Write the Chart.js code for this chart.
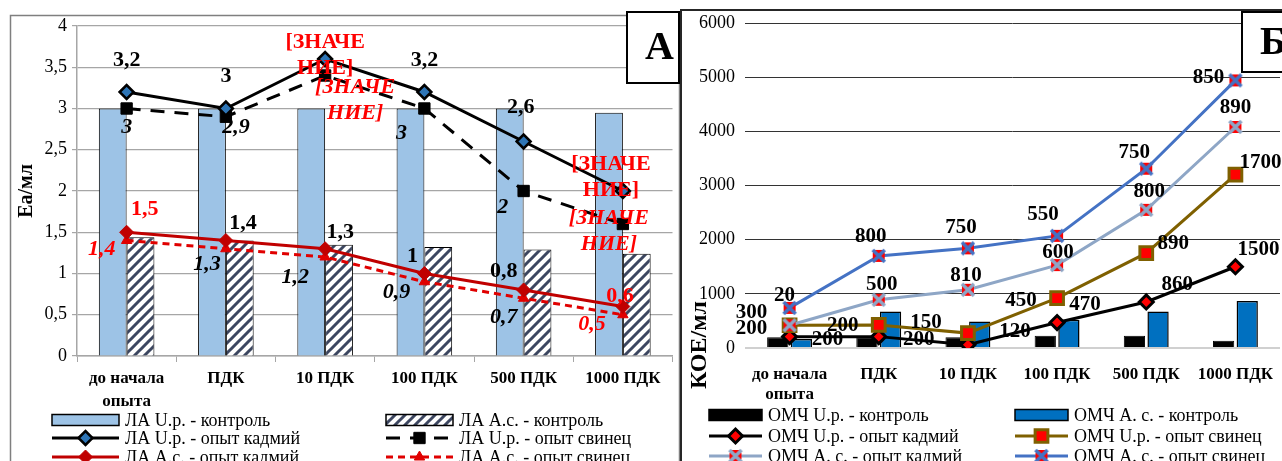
<!DOCTYPE html>
<html>
<head>
<meta charset="utf-8">
<script src="https://cdn.jsdelivr.net/npm/chart.js@4.4.0/dist/chart.umd.min.js"></script>
<style>
  html, body { margin: 0; padding: 0; background: #fff; overflow: hidden; }
  #wrap { position: relative; width: 1282px; height: 461px; overflow: hidden; }
  #boxA { position: absolute; left: 0; top: 0; width: 682px; height: 461px; }
  #boxB { position: absolute; left: 680px; top: 0; width: 612px; height: 461px; }
</style>
</head>
<body>
<div id="wrap">
  <div id="boxA"><canvas id="chartA"></canvas></div>
  <div id="boxB"><canvas id="chartB"></canvas></div>
</div>
<script>
var FONT = "'Liberation Serif', 'Times New Roman', serif";
var RED = "#FF0000";

var categories = [["до начала", "опыта"], "ПДК", "10 ПДК", "100 ПДК", "500 ПДК", "1000 ПДК"];

// panel A - ЛА, Еа/мл
var yTicksA = ["0", "0,5", "1", "1,5", "2", "2,5", "3", "3,5", "4"];
var laUrControl = [3, 3, 3, 3, 3, 2.95];
var laAsControl = [1.44, 1.4, 1.35, 1.32, 1.29, 1.24];
var laUrCd = [3.2, 3, 3.6, 3.2, 2.6, 2];
var laUrPb = [3, 2.9, 3.4, 3, 2, 1.6];
var laAsCd = [1.5, 1.4, 1.3, 1, 0.8, 0.6];
var laAsPb = [1.4, 1.3, 1.2, 0.9, 0.7, 0.5];
var laUrCdText = ["3,2", "3", "[ЗНАЧЕНИЕ]", "3,2", "2,6", "[ЗНАЧЕНИЕ]"];
var laUrPbText = ["3", "2,9", "[ЗНАЧЕНИЕ]", "3", "2", "[ЗНАЧЕНИЕ]"];
var laAsCdText = ["1,5", "1,4", "1,3", "1", "0,8", "0,6"];
var laAsPbText = ["1,4", "1,3", "1,2", "0,9", "0,7", "0,5"];

// panel Б - ОМЧ, КОЕ/мл
var yTicksB = ["0", "1000", "2000", "3000", "4000", "5000", "6000"];
var omUrControl = [200, 200, 200, 225, 225, 135];
var omAsControl = [165, 675, 490, 520, 675, 870];
var omUrCd = [210, 210, 60, 470, 850, 1500];
var omUrPb = [420, 425, 275, 920, 1750, 3200];
var omAsCd = [420, 890, 1075, 1530, 2550, 4080];
var omAsPb = [740, 1700, 1840, 2070, 3310, 4940];
var omUrCdText = ["200", "200", "120", "470", "860", "1500"];
var omUrPbText = ["200", "200", "150", "450", "890", "1700"];
var omAsCdText = ["300", "500", "810", "600", "800", "890"];
var omAsPbText = ["20", "800", "750", "550", "750", "850"];

// hatched fill for "А.с. - контроль"
function makeHatch() {
  var c = document.createElement("canvas");
  c.width = 10; c.height = 10;
  var g = c.getContext("2d");
  g.fillStyle = "#fff";
  g.fillRect(0, 0, 10, 10);
  g.strokeStyle = "#3C4660";
  g.lineWidth = 3;
  g.beginPath();
  g.moveTo(-2, 12); g.lineTo(12, -2);
  g.moveTo(-7, 7); g.lineTo(7, -7);
  g.moveTo(3, 17); g.lineTo(17, 3);
  g.stroke();
  return c.getContext("2d").createPattern(c, "repeat");
}

// red square with an X over it
function crossMarker(color) {
  var c = document.createElement("canvas");
  c.width = 18; c.height = 18;
  var g = c.getContext("2d");
  g.fillStyle = RED;
  g.fillRect(3, 3, 12, 12);
  g.strokeStyle = color;
  g.lineWidth = 3.5;
  g.beginPath();
  g.moveTo(3, 3); g.lineTo(15, 15);
  g.moveTo(15, 3); g.lineTo(3, 15);
  g.stroke();
  return c;
}

var hatch = makeHatch();

var pointLabels = {
  id: "pointLabels",
  afterDatasetsDraw: function (chart) {
    var ctx = chart.ctx;
    chart.data.datasets.forEach(function (ds, i) {
      if (!ds.labelText) return;
      var meta = chart.getDatasetMeta(i);
      meta.data.forEach(function (pt, j) {
        var t = ds.labelText[j];
        var lines = t.length > 6 ? [t.slice(0, 6), t.slice(6)] : [t];
        var off = ds.labelOffsets[j];
        ctx.save();
        ctx.font = (ds.labelItalic ? "italic " : "") + "bold " + ds.labelSize + "px " + FONT;
        ctx.fillStyle = ds.labelColors ? ds.labelColors[j] : "#000";
        ctx.textAlign = "center";
        ctx.textBaseline = "middle";
        lines.forEach(function (s, k) {
          ctx.fillText(s, pt.x + off[0], pt.y + off[1] + (k - (lines.length - 1) / 2) * 26);
        });
        ctx.restore();
      });
    });
  }
};

function legendPlugin(items, swatch, barH) {
  return {
    id: "customLegend",
    afterDraw: function (chart) {
      var ctx = chart.ctx;
      items.forEach(function (it) {
        var ds = chart.data.datasets[it.i];
        var x0 = it.x, y = it.y;
        ctx.save();
        if (ds.type === "bar") {
          ctx.fillStyle = ds.backgroundColor;
          ctx.fillRect(x0, y - barH / 2, swatch, barH);
          ctx.strokeStyle = "#000";
          ctx.lineWidth = 1.5;
          ctx.strokeRect(x0, y - barH / 2, swatch, barH);
        } else {
          ctx.strokeStyle = ds.borderColor;
          ctx.lineWidth = ds.borderWidth;
          ctx.setLineDash(ds.borderDash || []);
          ctx.beginPath();
          ctx.moveTo(x0, y);
          ctx.lineTo(x0 + swatch, y);
          ctx.stroke();
          ctx.setLineDash([]);
          ctx.fillStyle = ds.pointBackgroundColor;
          ctx.strokeStyle = ds.pointBorderColor;
          ctx.lineWidth = ds.pointBorderWidth;
          Chart.helpers.drawPoint(ctx, {
            pointStyle: ds.pointStyle, radius: ds.pointRadius, rotation: 0, borderWidth: ds.pointBorderWidth
          }, x0 + swatch / 2, y);
        }
        ctx.fillStyle = "#000";
        ctx.font = "18px " + FONT;
        ctx.textAlign = "left";
        ctx.textBaseline = "middle";
        ctx.fillText(ds.label, x0 + swatch + 6, y + 1);
        ctx.restore();
      });
    }
  };
}

// frame, rotated axis title and the panel letter box
function decorPlugin(opts) {
  return {
    id: "decor",
    beforeDraw: function (chart) {
      var ctx = chart.ctx;
      ctx.save();
      ctx.strokeStyle = opts.frameColor;
      ctx.lineWidth = opts.frameWidth;
      ctx.strokeRect(opts.frame[0], opts.frame[1], opts.frame[2], opts.frame[3]);
      ctx.restore();
    },
    afterDraw: function (chart) {
      var ctx = chart.ctx;
      ctx.save();
      ctx.translate(opts.titleX, opts.titleY);
      ctx.rotate(-Math.PI / 2);
      ctx.font = "bold " + opts.titleSize + "px " + FONT;
      ctx.fillStyle = "#000";
      ctx.textAlign = "center";
      ctx.textBaseline = "middle";
      ctx.fillText(opts.title, 0, 0);
      ctx.restore();

      ctx.save();
      var b = opts.box;
      ctx.fillStyle = "#fff";
      ctx.fillRect(b[0], b[1], b[2], b[3]);
      ctx.strokeStyle = "#000";
      ctx.lineWidth = 2;
      ctx.strokeRect(b[0], b[1], b[2], b[3]);
      ctx.font = "bold 40px " + FONT;
      ctx.fillStyle = "#000";
      ctx.textAlign = "left";
      ctx.textBaseline = "middle";
      ctx.fillText(opts.letter, opts.letterX, opts.letterY);
      ctx.restore();
    }
  };
}

// ---------- panel A ----------
var dataA = {
  labels: categories,
  datasets: [
    {
      type: "line", label: "ЛА U.р. - опыт кадмий", data: laUrCd, order: 1,
      borderColor: "#000", borderWidth: 3, pointStyle: "rectRot", pointRadius: 7,
      pointBackgroundColor: "#2E75B6", pointBorderColor: "#000", pointBorderWidth: 2.5,
      labelText: laUrCdText, labelSize: 22,
      labelColors: ["#000", "#000", RED, "#000", "#000", RED],
      labelOffsets: [[0, -32], [0, -32], [0, -4], [0, -32], [-3, -34], [-12, -14]]
    },
    {
      type: "line", label: "ЛА U.р. - опыт свинец", data: laUrPb, order: 1,
      borderColor: "#000", borderWidth: 3, borderDash: [14, 10], pointStyle: "rect", pointRadius: 8,
      pointBackgroundColor: "#000", pointBorderColor: "#000", pointBorderWidth: 1,
      labelText: laUrPbText, labelSize: 22, labelItalic: true,
      labelColors: ["#000", "#000", RED, "#000", "#000", RED],
      labelOffsets: [[0, 19], [10, 11], [30, 25], [-23, 25], [-21, 16], [-14, 7]]
    },
    {
      type: "line", label: "ЛА А.с. - опыт кадмий", data: laAsCd, order: 1,
      borderColor: "#C00000", borderWidth: 3, pointStyle: "rectRot", pointRadius: 7,
      pointBackgroundColor: "#C00000", pointBorderColor: "#C00000", pointBorderWidth: 1,
      labelText: laAsCdText, labelSize: 22,
      labelColors: [RED, "#000", "#000", "#000", "#000", RED],
      labelOffsets: [[18, -23], [17, -17], [15, -16], [-12, -17], [-20, -19], [-3, -10]]
    },
    {
      type: "line", label: "ЛА А.с. - опыт свинец", data: laAsPb, order: 1,
      borderColor: "#E00000", borderWidth: 3, borderDash: [7, 5], pointStyle: "triangle", pointRadius: 6,
      pointBackgroundColor: "#E00000", pointBorderColor: "#E00000", pointBorderWidth: 1,
      labelText: laAsPbText, labelSize: 22, labelItalic: true,
      labelColors: [RED, "#000", "#000", "#000", "#000", RED],
      labelOffsets: [[-25, 9], [-19, 16], [-30, 20], [-28, 11], [-20, 19], [-31, 10]]
    },
    {
      type: "bar", label: "ЛА U.р. - контроль", data: laUrControl, order: 2,
      backgroundColor: "#9DC3E6", borderColor: "#000", borderWidth: 1,
      categoryPercentage: 0.56, barPercentage: 1
    },
    {
      type: "bar", label: "ЛА А.с. - контроль", data: laAsControl, order: 2,
      backgroundColor: hatch, borderColor: "#000", borderWidth: 1,
      categoryPercentage: 0.56, barPercentage: 1
    }
  ]
};

var chartA = new Chart(document.getElementById("chartA").getContext("2d"), {
  type: "bar",
  data: dataA,
  options: {
    responsive: true,
    maintainAspectRatio: false,
    animation: false,
    layout: { padding: { left: 0, top: 26, right: 8, bottom: 0 } },
    plugins: { legend: { display: false }, tooltip: { enabled: false } },
    scales: {
      x: {
        grid: { display: true, drawOnChartArea: false, drawTicks: true, tickLength: 6, color: "#A6A6A6", offset: true },
        border: { color: "#A6A6A6", width: 1.5 },
        ticks: {
          font: { family: FONT, size: 17, weight: "bold", lineHeight: 1.3 },
          color: "#000", padding: 6, maxRotation: 0, autoSkip: false
        },
        afterFit: function (s) { s.height = 105; }
      },
      y: {
        min: 0, max: 4,
        ticks: {
          stepSize: 0.5, color: "#000", padding: 5,
          font: { family: FONT, size: 18 },
          callback: function (v, i) { return yTicksA[i]; }
        },
        grid: { color: "#A6A6A6", lineWidth: 1.2, tickLength: 5 },
        border: { color: "#A6A6A6", width: 1.5 },
        afterFit: function (s) { s.width = 77; }
      }
    }
  },
  plugins: [
    pointLabels,
    legendPlugin([
      { i: 4, x: 52, y: 420 }, { i: 0, x: 52, y: 438 }, { i: 2, x: 52, y: 457 },
      { i: 5, x: 386, y: 420 }, { i: 1, x: 386, y: 438 }, { i: 3, x: 386, y: 457 }
    ], 67, 11),
    decorPlugin({
      frame: [10.5, 15.5, 669, 470], frameColor: "#7F7F7F", frameWidth: 1.5,
      title: "Еа/мл", titleX: 27, titleY: 191, titleSize: 20,
      box: [627, 12, 52, 71], letter: "А", letterX: 645, letterY: 49
    })
  ]
});

// ---------- panel Б ----------
var dataB = {
  labels: categories,
  datasets: [
    {
      type: "line", label: "ОМЧ А. с. - опыт свинец", data: omAsPb, order: 1,
      borderColor: "#4472C4", borderWidth: 3, pointStyle: crossMarker("#4472C4"), pointRadius: 8,
      pointBackgroundColor: RED, pointBorderColor: "#4472C4", pointBorderWidth: 0,
      labelText: omAsPbText, labelSize: 21,
      labelOffsets: [[-5, -12], [-8, -19], [-7, -21], [-14, -21], [-12, -16], [-27, -3]]
    },
    {
      type: "line", label: "ОМЧ А. с. - опыт кадмий", data: omAsCd, order: 1,
      borderColor: "#8EA6C6", borderWidth: 3, pointStyle: crossMarker("#8EA6C6"), pointRadius: 8,
      pointBackgroundColor: RED, pointBorderColor: "#8EA6C6", pointBorderWidth: 0,
      labelText: omAsCdText, labelSize: 21,
      labelOffsets: [[-38, -13], [3, -15], [-2, -14], [1, -13], [3, -18], [0, -19]]
    },
    {
      type: "line", label: "ОМЧ U.р. - опыт свинец", data: omUrPb, order: 1,
      borderColor: "#7F6000", borderWidth: 3, pointStyle: "rect", pointRadius: 9,
      pointBackgroundColor: RED, pointBorderColor: "#7F6000", pointBorderWidth: 3,
      labelText: omUrPbText, labelSize: 21,
      labelOffsets: [[-38, 3], [-36, 1], [-42, -11], [-36, 2], [27, -10], [25, -12]]
    },
    {
      type: "line", label: "ОМЧ U.р. - опыт кадмий", data: omUrCd, order: 1,
      borderColor: "#000", borderWidth: 3, pointStyle: "rectRot", pointRadius: 7,
      pointBackgroundColor: RED, pointBorderColor: "#000", pointBorderWidth: 3,
      labelText: omUrCdText, labelSize: 21,
      labelOffsets: [[38, 3], [40, 3], [47, -13], [28, -18], [31, -17], [23, -17]]
    },
    {
      type: "bar", label: "ОМЧ U.р. - контроль", data: omUrControl, order: 2,
      backgroundColor: "#000", borderColor: "#000", borderWidth: 1,
      categoryPercentage: 0.53, barPercentage: 0.9
    },
    {
      type: "bar", label: "ОМЧ А. с. - контроль", data: omAsControl, order: 2,
      backgroundColor: "#0070C0", borderColor: "#000", borderWidth: 1.5,
      categoryPercentage: 0.53, barPercentage: 0.9
    }
  ]
};

var chartB = new Chart(document.getElementById("chartB").getContext("2d"), {
  type: "bar",
  data: dataB,
  options: {
    responsive: true,
    maintainAspectRatio: false,
    animation: false,
    layout: { padding: { left: 0, top: 23, right: 7, bottom: 0 } },
    plugins: { legend: { display: false }, tooltip: { enabled: false } },
    scales: {
      x: {
        grid: { display: false },
        border: { display: false },
        ticks: {
          font: { family: FONT, size: 17, weight: "bold", lineHeight: 1.2 },
          color: "#000", padding: 8, maxRotation: 0, autoSkip: false
        },
        afterFit: function (s) { s.height = 113; }
      },
      y: {
        min: 0, max: 6000,
        ticks: {
          stepSize: 1000, color: "#000", padding: 10,
          font: { family: FONT, size: 18 },
          callback: function (v, i) { return yTicksB[i]; }
        },
        grid: {
          drawTicks: false,
          color: function (c) { return c.tick && c.tick.value === 0 ? "#D0D0D0" : "#333333"; },
          lineWidth: function (c) { return c.tick && c.tick.value === 0 ? 2 : 1; }
        },
        border: { display: false },
        afterFit: function (s) { s.width = 65; }
      }
    }
  },
  plugins: [
    pointLabels,
    legendPlugin([
      { i: 4, x: 29, y: 415 }, { i: 3, x: 29, y: 436 }, { i: 1, x: 29, y: 456 },
      { i: 5, x: 335, y: 415 }, { i: 2, x: 335, y: 436 }, { i: 0, x: 335, y: 456 }
    ], 53, 11),
    decorPlugin({
      frame: [1, 10, 700, 500], frameColor: "#262626", frameWidth: 2,
      title: "КОЕ/мл", titleX: 20, titleY: 345, titleSize: 24,
      box: [562, 12, 80, 60], letter: "Б", letterX: 580, letterY: 44
    })
  ]
});
</script>
</body>
</html>
